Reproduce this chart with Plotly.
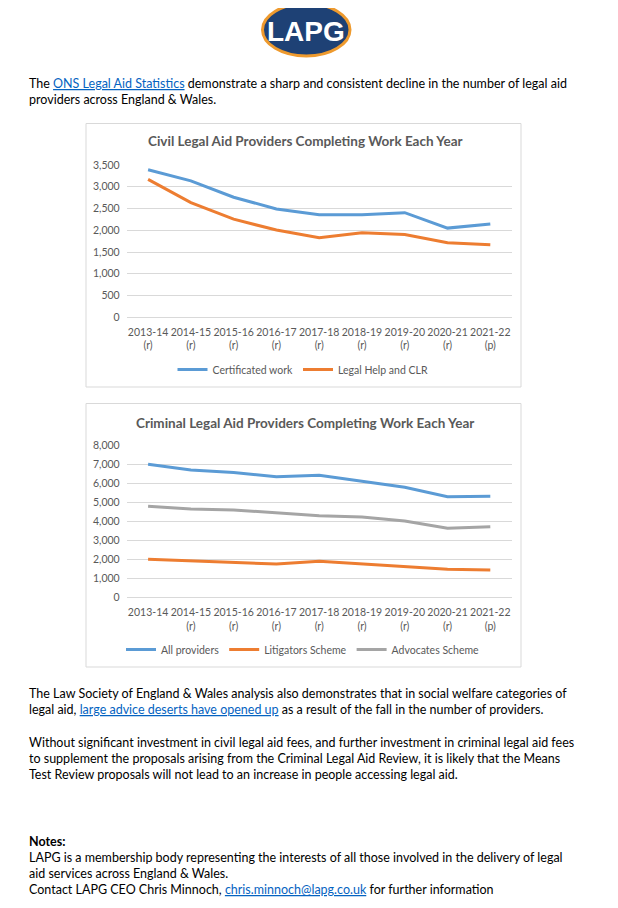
import plotly.graph_objects as go

# The page body has an 8px default margin, so the figure is drawn 8px in from the
# top-left corner of the window; the figure is sized to fill the remaining area.
OFF = 8
W, H = 618 - OFF, 908 - OFF

# ---------------- data ----------------
years = ["2013-14", "2014-15", "2015-16", "2016-17", "2017-18", "2018-19", "2019-20", "2020-21", "2021-22"]
civil_suffix = ["(r)", "(r)", "(r)", "(r)", "(r)", "(r)", "(r)", "(r)", "(p)"]
criminal_suffix = ["", "(r)", "(r)", "(r)", "(r)", "(r)", "(r)", "(r)", "(p)"]

certificated_work = [3390, 3135, 2760, 2490, 2355, 2355, 2405, 2050, 2145]
legal_help_clr = [3170, 2635, 2255, 2005, 1830, 1945, 1905, 1715, 1670]

all_providers = [6990, 6690, 6555, 6340, 6410, 6115, 5785, 5290, 5310]
litigators_scheme = [2010, 1920, 1835, 1765, 1905, 1765, 1625, 1490, 1450]
advocates_scheme = [4790, 4645, 4595, 4440, 4295, 4225, 4020, 3635, 3720]

civil_ticks = [0, 500, 1000, 1500, 2000, 2500, 3000, 3500]
criminal_ticks = [0, 1000, 2000, 3000, 4000, 5000, 6000, 7000, 8000]

BLUE, ORANGE, GREY = "#5B9BD5", "#ED7D31", "#A5A5A5"
GRID = "#D9D9D9"
TXT = "#595959"
LINK = "#0563C1"
FONT = "Lato"


def px(v):
    return (v - OFF) / W


def py(v):
    return 1 - (v - OFF) / H


fig = go.Figure()

fig.add_trace(go.Scatter(x=years, y=certificated_work, name="Certificated work", mode="lines",
                         line=dict(color=BLUE, width=3), xaxis="x", yaxis="y", legend="legend"))
fig.add_trace(go.Scatter(x=years, y=legal_help_clr, name="Legal Help and CLR", mode="lines",
                         line=dict(color=ORANGE, width=3), xaxis="x", yaxis="y", legend="legend"))
fig.add_trace(go.Scatter(x=years, y=all_providers, name="All providers", mode="lines",
                         line=dict(color=BLUE, width=3), xaxis="x2", yaxis="y2", legend="legend2"))
fig.add_trace(go.Scatter(x=years, y=litigators_scheme, name="Litigators Scheme", mode="lines",
                         line=dict(color=ORANGE, width=3), xaxis="x2", yaxis="y2", legend="legend2"))
fig.add_trace(go.Scatter(x=years, y=advocates_scheme, name="Advocates Scheme", mode="lines",
                         line=dict(color=GREY, width=3), xaxis="x2", yaxis="y2", legend="legend2"))

civil_text = [f"{y}<br>{s}" for y, s in zip(years, civil_suffix)]
criminal_text = [f"{y}<br>{s}" if s else y for y, s in zip(years, criminal_suffix)]

xdom = [px(126.7), px(511.7)]
common_x = dict(type="category", range=[-0.5, len(years) - 0.5], showgrid=False, zeroline=False,
                showline=False, ticks="", tickfont=dict(family=FONT, size=10.5, color=TXT),
                ticklabelstandoff=7, fixedrange=True)
common_y = dict(showgrid=True, gridcolor=GRID, gridwidth=1, zeroline=True, zerolinecolor=GRID,
                zerolinewidth=1, showline=False, ticks="", tickformat=",d",
                tickfont=dict(family=FONT, size=10.5, color=TXT), ticklabelstandoff=6,
                fixedrange=True)

layout = dict(
    width=W, height=H, margin=dict(l=0, r=0, t=0, b=0, pad=0, autoexpand=False),
    paper_bgcolor="white", plot_bgcolor="white",
    font=dict(family=FONT, color="#000000"),
    xaxis=dict(common_x, domain=xdom, anchor="y", tickvals=years, ticktext=civil_text),
    yaxis=dict(common_y, domain=[py(317.3), py(165)], range=[0, 3500], tickvals=civil_ticks, anchor="x"),
    xaxis2=dict(common_x, domain=xdom, anchor="y2", tickvals=years, ticktext=criminal_text),
    yaxis2=dict(common_y, domain=[py(597.7), py(445)], range=[0, 8000], tickvals=criminal_ticks, anchor="x2"),
    legend=dict(orientation="h", x=px(303), xanchor="center", y=py(369.5), yanchor="middle",
                font=dict(family=FONT, size=10.5, color=TXT), bgcolor="rgba(0,0,0,0)",
                itemwidth=30, tracegroupgap=0),
    legend2=dict(orientation="h", x=px(303), xanchor="center", y=py(649.5), yanchor="middle",
                 font=dict(family=FONT, size=10.5, color=TXT), bgcolor="rgba(0,0,0,0)",
                 itemwidth=30, tracegroupgap=0),
    showlegend=True,
)
fig.update_layout(**layout)

shapes = [
    dict(type="rect", xref="paper", yref="paper", x0=px(86), x1=px(521), y0=py(387), y1=py(123.5),
         line=dict(color=GRID, width=1), fillcolor="rgba(0,0,0,0)", layer="below"),
    dict(type="rect", xref="paper", yref="paper", x0=px(86), x1=px(521), y0=py(667), y1=py(403.5),
         line=dict(color=GRID, width=1), fillcolor="rgba(0,0,0,0)", layer="below"),
    # logo
    dict(type="circle", xref="paper", yref="paper", x0=px(262.5), x1=px(350), y0=py(56), y1=py(3.5),
         line=dict(color="#EE9A2E", width=3), fillcolor="#1E4175", layer="above"),
]
fig.update_layout(shapes=shapes)

ann = []


def text_line(x, y, s, size=12.5, color="#000000"):
    ann.append(dict(xref="paper", yref="paper", x=px(x), y=py(y), xanchor="left", yanchor="middle",
                    text=s, showarrow=False, align="left", font=dict(family=FONT, size=size, color=color)))


def link(s):
    return f"<span style='color:{LINK}'><u>{s}</u></span>"


ann.append(dict(xref="paper", yref="paper", x=px(306), y=py(31.5), xanchor="center", yanchor="middle",
                text="<b>LAPG</b>", showarrow=False,
                font=dict(family="Liberation Sans", size=28, color="white")))

text_line(27, 83.5, "The " + link("ONS Legal Aid Statistics") +
          " demonstrate a sharp and consistent decline in the number of legal aid")
text_line(27, 99.5, "providers across England & Wales.")

text_line(27, 693.0, "The Law Society of England & Wales analysis also demonstrates that in social welfare categories of")
text_line(27, 709.3, "legal aid, " + link("large advice deserts have opened up") +
          " as a result of the fall in the number of providers.")

text_line(27, 742.3, "Without significant investment in civil legal aid fees, and further investment in criminal legal aid fees")
text_line(27, 758.5, "to supplement the proposals arising from the Criminal Legal Aid Review, it is likely that the Means")
text_line(27, 774.8, "Test Review proposals will not lead to an increase in people accessing legal aid.")

text_line(27, 841.5, "<b>Notes:</b>")
text_line(27, 857.5, "LAPG is a membership body representing the interests of all those involved in the delivery of legal")
text_line(27, 873.5, "aid services across England & Wales.")
text_line(27, 889.5, "Contact LAPG CEO Chris Minnoch, " + link("chris.minnoch@lapg.co.uk") + " for further information")

# chart titles
ann.append(dict(xref="paper", yref="paper", x=px(305), y=py(141.5), xanchor="center", yanchor="middle",
                text="<b>Civil Legal Aid Providers Completing Work Each Year</b>", showarrow=False,
                font=dict(family=FONT, size=13.5, color=TXT)))
ann.append(dict(xref="paper", yref="paper", x=px(304.5), y=py(422.5), xanchor="center", yanchor="middle",
                text="<b>Criminal Legal Aid Providers Completing Work Each Year</b>", showarrow=False,
                font=dict(family=FONT, size=13.5, color=TXT)))

fig.update_layout(annotations=ann)

fig.write_html("out.html")
